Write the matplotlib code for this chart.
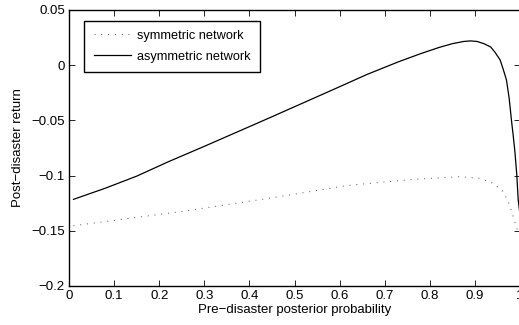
import matplotlib
matplotlib.use('Agg')
from matplotlib import pyplot as plt

# значения
p_asym = [0.01, 0.08, 0.15, 0.22, 0.30, 0.44, 0.53, 0.60, 0.66, 0.73, 0.78,
          0.82, 0.85, 0.875, 0.89, 0.905, 0.92, 0.935, 0.945, 0.956, 0.963,
          0.97, 0.976, 0.981, 0.985, 0.989, 0.993, 0.996, 1.0]
r_asym = [-0.1215, -0.1115, -0.1005, -0.0875, -0.0735, -0.0485, -0.0322,
          -0.0195, -0.0085, 0.003, 0.0105, 0.016, 0.0195, 0.0215, 0.022,
          0.0215, 0.0195, 0.0165, 0.0115, 0.0047, -0.004, -0.0134, -0.030,
          -0.0496, -0.064, -0.0796, -0.100, -0.122, -0.135]

p_sym = [0.01, 0.246, 0.468, 0.616, 0.763, 0.867, 0.911, 0.941, 0.963,
         0.977, 0.987, 0.994, 0.998]
r_sym = [-0.1454, -0.1327, -0.119, -0.109, -0.1034, -0.101, -0.1025, -0.107,
         -0.1146, -0.1266, -0.140, -0.149, -0.152]

xticks = [0, 0.1, 0.2, 0.3, 0.4, 0.5, 0.6, 0.7, 0.8, 0.9, 1.0]
xtick_labels = ['0', '0.1', '0.2', '0.3', '0.4', '0.5', '0.6', '0.7', '0.8', '0.9', '1']
yticks = [0.05, 0, -0.05, -0.1, -0.15, -0.2]
ytick_labels = ['0.05', '0', '\u22120.05', '\u22120.1', '\u22120.15', '\u22120.2']

plt.rcParams['font.family'] = ['Liberation Sans', 'DejaVu Sans']
plt.rcParams['font.size'] = 9.5

fig = plt.figure(figsize=(5.19, 3.25), dpi=100)
ax = fig.add_axes([69 / 519, 39 / 325, 451 / 519, 276 / 325])

ax.plot(p_sym, r_sym, color='0.3', lw=0.7, linestyle=(0, (1, 6)),
        label='symmetric network')
ax.plot(p_asym, r_asym, color='black', lw=0.9, label='asymmetric network')

ax.set_xlim(0, 1)
ax.set_ylim(-0.2, 0.05)
ax.set_xticks(xticks)
ax.set_xticklabels(xtick_labels)
ax.set_yticks(yticks)
ax.set_yticklabels(ytick_labels)
ax.tick_params(direction='in', length=4, width=0.6, top=True, right=True, pad=3)
for s in ax.spines.values():
    s.set_linewidth(1.0)

ax.set_xlabel('Pre\u2212disaster posterior probability', labelpad=1)
ax.set_ylabel('Post\u2212disaster return', labelpad=5)

leg = ax.legend(loc='upper left', bbox_to_anchor=(0.034, 0.961), borderaxespad=0,
                fontsize=9.2, handlelength=2.9, handletextpad=0.5, borderpad=0.72,
                labelspacing=0.7, fancybox=False, framealpha=1)
leg.get_frame().set_edgecolor('black')
leg.get_frame().set_linewidth(1.0)

plt.savefig('out.png', dpi=100)
